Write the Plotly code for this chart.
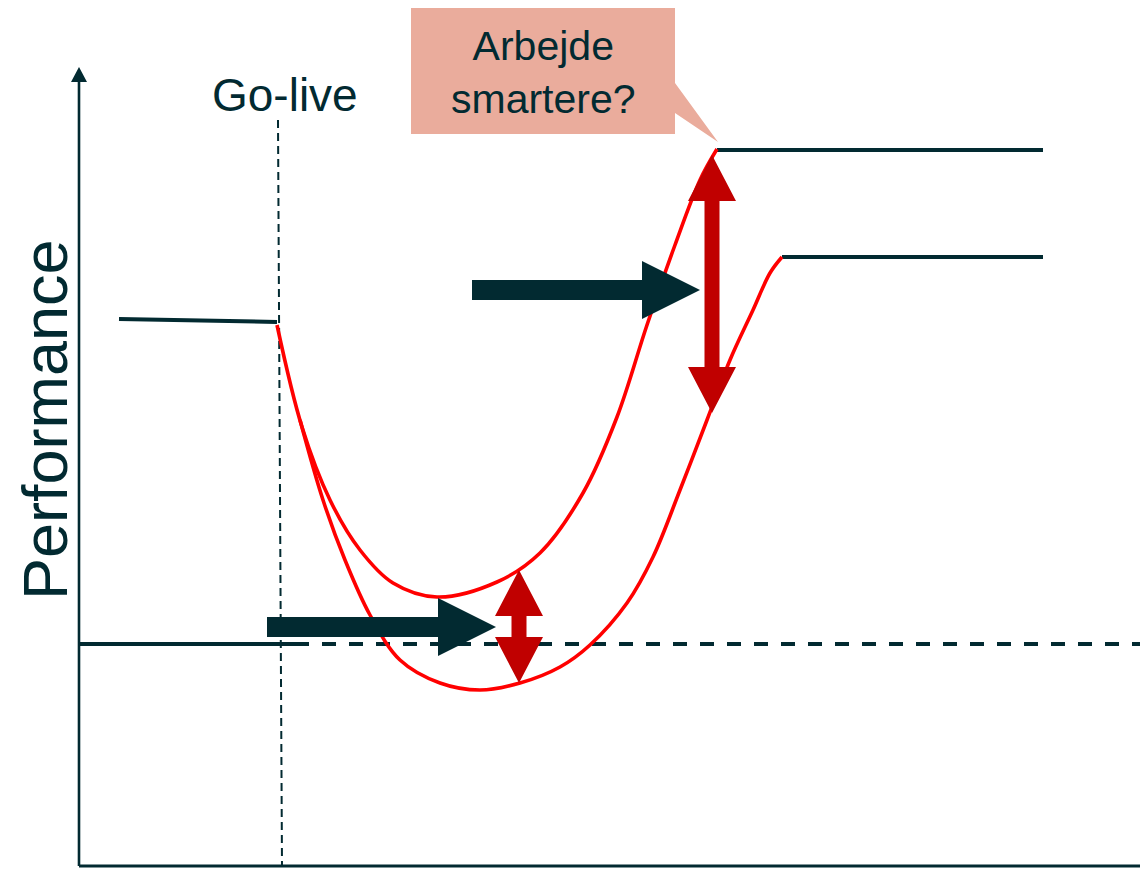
import plotly.graph_objects as go

W, H = 1148, 889
PAGE_PAD = 8  # default body margin of the html page
DARK = '#022A31'
RED_LINE = '#FF0000'
RED_ARROW = '#C00000'
CALLOUT = '#EAAC9C'
FONT = 'Liberation Sans, Arial, sans-serif'

# curves (pixel space of the original slide)
upper_x = [277, 302, 330, 360, 393, 437, 497, 540, 583, 617, 647, 675, 700, 717]
upper_y = [325, 427, 500, 550, 583, 597, 582, 553, 493, 417, 325, 245, 180, 149]
lower_x = [300, 323, 345, 370, 400, 440, 480, 520, 560, 590, 627, 653, 680, 707, 730, 753, 770, 782]
lower_y = [420, 500, 560, 615, 660, 683, 690, 683, 667, 645, 603, 557, 490, 420, 360, 310, 273, 257]

pre_x, pre_y = [119, 277], [319, 322]
high_x, high_y = [717, 1043], [150, 150]
mid_x, mid_y = [782, 1043], [257, 257]

axis_origin = (79, 866)
axis_top = 67
axis_right = 1148
base_y = 644
base_solid_end = 295
golive_x = [278, 282]
golive_y = [120, 866]

# black arrows: (x start, x tip, y)
black_arrows = [(472, 700, 290), (267, 496, 627)]
# red double arrows: (x, top tip, bottom tip)
red_arrows = [(519, 570, 683), (712, 155, 413)]

callout_x = [411, 675, 675, 718, 675, 675, 411]
callout_y = [7, 7, 83, 142, 113, 134, 134]


def h_arrow(x0, x1, y, shaft=10, head=29, head_len=58):
    xb = x1 - head_len
    xs = [x0, xb, xb, x1, xb, xb, x0, x0]
    ys = [y - shaft, y - shaft, y - head, y, y + head, y + shaft, y + shaft, y - shaft]
    return xs, ys


def v_double(x, y0, y1, shaft=7.5, head=24, head_len=46):
    a, b = y0 + head_len, y1 - head_len
    xs = [x, x + head, x + shaft, x + shaft, x + head, x, x - head, x - shaft, x - shaft, x - head, x]
    ys = [y0, a, a, b, b, y1, b, b, a, a, y0]
    return xs, ys


fig = go.Figure()


def line(xs, ys, color=DARK, width=4, dash='solid', shape='linear'):
    fig.add_trace(go.Scatter(x=xs, y=ys, mode='lines',
                             line=dict(color=color, width=width, dash=dash, shape=shape, smoothing=1),
                             hoverinfo='skip', showlegend=False))


def poly(xs, ys, color):
    fig.add_trace(go.Scatter(x=xs, y=ys, mode='lines', fill='toself', fillcolor=color,
                             line=dict(width=0, color=color), hoverinfo='skip', showlegend=False))


# axes
ox, oy = axis_origin
line([ox, ox], [oy, axis_top + 14], width=2.6)
poly([ox - 8, ox, ox + 8, ox - 8], [axis_top + 15, axis_top, axis_top + 15, axis_top + 15], DARK)
line([ox, axis_right], [oy, oy], width=3)

# baseline and go-live marker
line([ox, base_solid_end], [base_y, base_y])
line([base_solid_end, axis_right], [base_y, base_y], dash='14px,13px')
line(golive_x, golive_y, width=2, dash='8px,5px')

# performance levels
line(pre_x, pre_y)
line(high_x, high_y)
line(mid_x, mid_y)
line(upper_x, upper_y, color=RED_LINE, width=3.6, shape='spline')
line(lower_x, lower_y, color=RED_LINE, width=3.6, shape='spline')

for x0, x1, y in black_arrows:
    poly(*h_arrow(x0, x1, y), DARK)
for x, y0, y1 in red_arrows:
    poly(*v_double(x, y0, y1), RED_ARROW)

poly(callout_x, callout_y, CALLOUT)

fig.add_annotation(x=285, y=95, text='Go-live', showarrow=False,
                   font=dict(family=FONT, size=46, color=DARK))
fig.add_annotation(x=543, y=72, text='Arbejde<br>smartere?', showarrow=False,
                   font=dict(family=FONT, size=41, color=DARK))
fig.add_annotation(x=45, y=420, text='Performance', showarrow=False, textangle=-90,
                   font=dict(family=FONT, size=63, color=DARK))

fig.update_layout(
    width=W, height=H,
    margin=dict(l=0, r=0, t=0, b=0),
    paper_bgcolor='white', plot_bgcolor='white',
    showlegend=False,
    xaxis=dict(range=[PAGE_PAD, W + PAGE_PAD], visible=False, fixedrange=True),
    yaxis=dict(range=[H + PAGE_PAD, PAGE_PAD], visible=False, fixedrange=True),
)

fig.write_html('out.html')
